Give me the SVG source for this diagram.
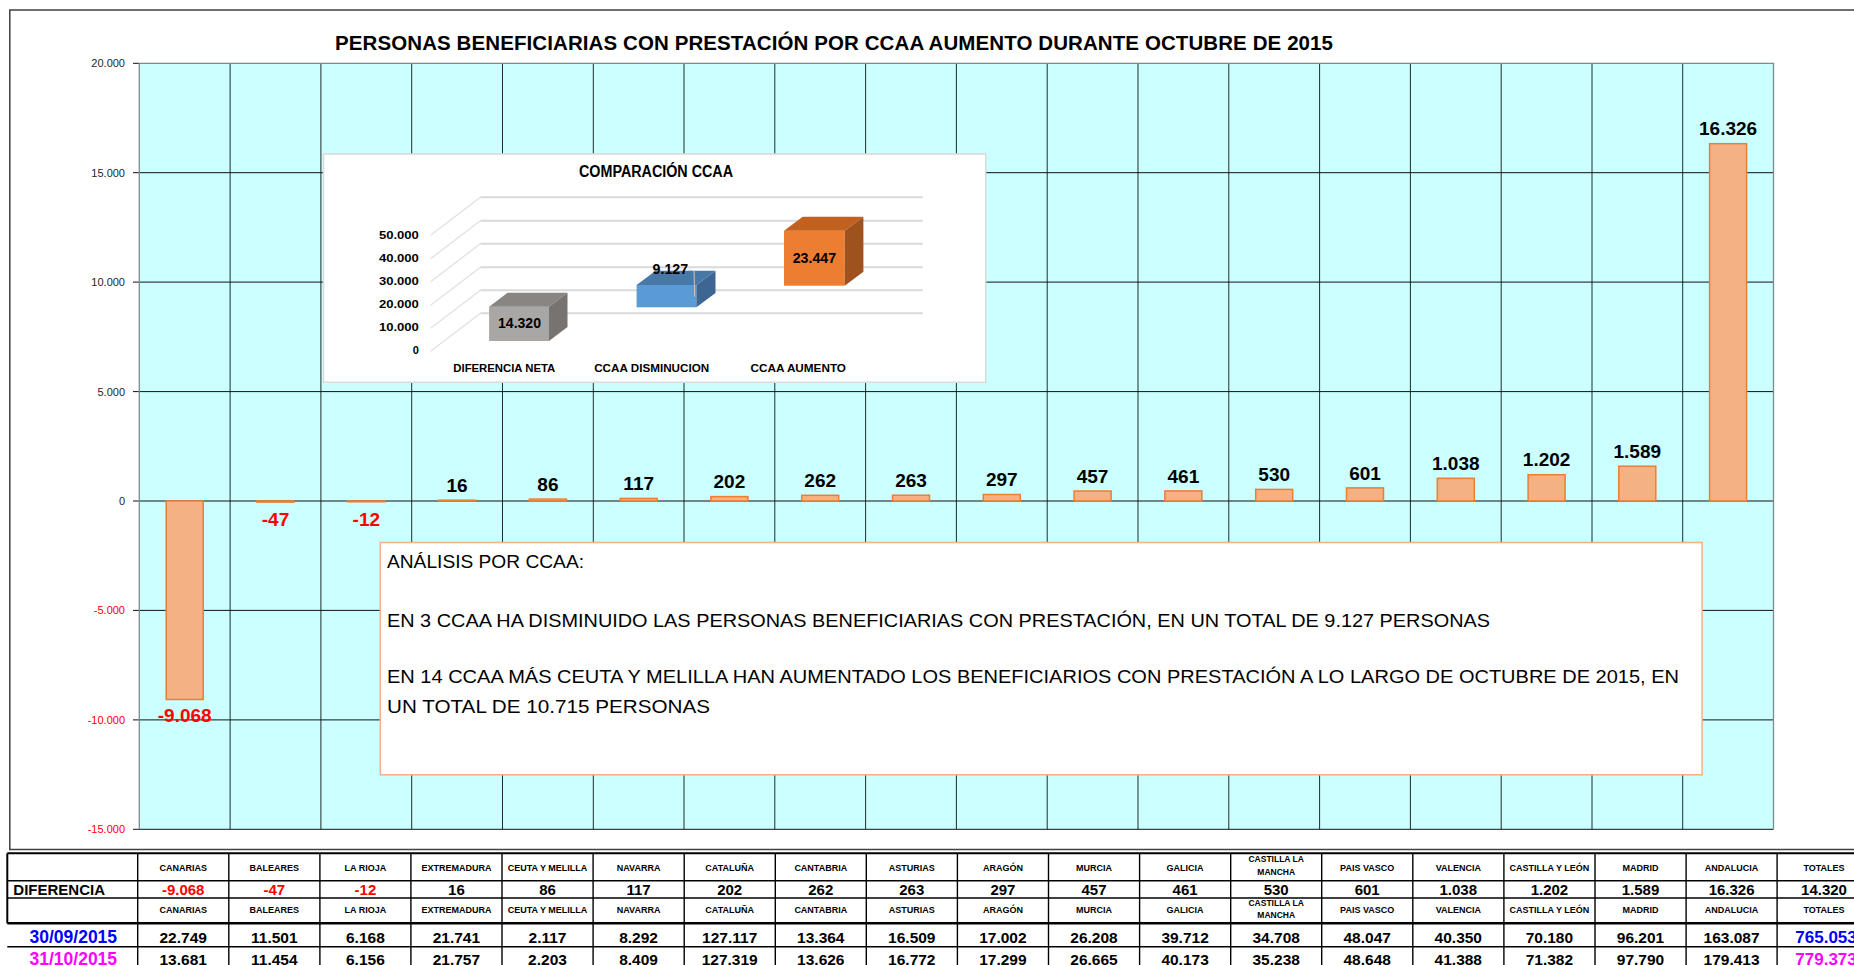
<svg xmlns="http://www.w3.org/2000/svg" width="1854" height="965" viewBox="0 0 1854 965">
<style>
text{font-family:"Liberation Sans",Arial,sans-serif}
.ax{font-size:11px;fill:#262626;text-anchor:end}
.axn{font-size:11px;fill:#FF0000;text-anchor:end}
.gh{stroke:#111;stroke-width:1}
.gv{stroke:#1e2d2d;stroke-width:1}
.bar{fill:#F4B183;stroke:#ED7D31;stroke-width:1.5}
.vl{font-size:19px;font-weight:bold;text-anchor:middle;fill:#000}
.vn{font-size:19px;font-weight:bold;text-anchor:middle;fill:#FF0000}
.th{font-size:9px;font-weight:bold;text-anchor:middle;fill:#000}
.th2{font-size:8.5px;font-weight:bold;text-anchor:middle;fill:#000}
.td{font-size:15px;font-weight:bold;text-anchor:middle;fill:#000}
.tdn{font-size:15px;font-weight:bold;text-anchor:middle;fill:#FF0000}
.tv{font-size:15.5px;font-weight:bold;text-anchor:middle;fill:#000}
.tl{stroke:#000;stroke-width:1.4}
.ib{font-weight:bold;fill:#000}
.box{font-size:19px;fill:#000}
</style>

<!-- outer frame -->
<g id="frame" fill="none" stroke="#404040" stroke-width="1.5">
<polyline points="1856,10 9.8,10 9.8,849.5 1856,849.5"/>
</g>

<text id="title" x="335" y="50" font-size="20.5" font-weight="bold" textLength="998" lengthAdjust="spacing">PERSONAS BENEFICIARIAS CON PRESTACIÓN POR CCAA AUMENTO DURANTE OCTUBRE DE 2015</text>

<!-- plot area -->
<g id="plot">
<rect x="139.3" y="63.3" width="1634.2" height="766" fill="#CCFFFF"/>
<g class="gv">
<line x1="230.1" y1="63.3" x2="230.1" y2="829.3"/>
<line x1="320.9" y1="63.3" x2="320.9" y2="829.3"/>
<line x1="411.7" y1="63.3" x2="411.7" y2="829.3"/>
<line x1="502.5" y1="63.3" x2="502.5" y2="829.3"/>
<line x1="593.3" y1="63.3" x2="593.3" y2="829.3"/>
<line x1="684.0" y1="63.3" x2="684.0" y2="829.3"/>
<line x1="774.8" y1="63.3" x2="774.8" y2="829.3"/>
<line x1="865.6" y1="63.3" x2="865.6" y2="829.3"/>
<line x1="956.4" y1="63.3" x2="956.4" y2="829.3"/>
<line x1="1047.2" y1="63.3" x2="1047.2" y2="829.3"/>
<line x1="1138.0" y1="63.3" x2="1138.0" y2="829.3"/>
<line x1="1228.8" y1="63.3" x2="1228.8" y2="829.3"/>
<line x1="1319.6" y1="63.3" x2="1319.6" y2="829.3"/>
<line x1="1410.4" y1="63.3" x2="1410.4" y2="829.3"/>
<line x1="1501.2" y1="63.3" x2="1501.2" y2="829.3"/>
<line x1="1592.0" y1="63.3" x2="1592.0" y2="829.3"/>
<line x1="1682.7" y1="63.3" x2="1682.7" y2="829.3"/>
</g>
<g class="gh">
<line x1="133" y1="172.7" x2="1773.5" y2="172.7"/>
<line x1="133" y1="282.1" x2="1773.5" y2="282.1"/>
<line x1="133" y1="391.6" x2="1773.5" y2="391.6"/>
<line x1="133" y1="501" x2="1773.5" y2="501"/>
<line x1="133" y1="610.4" x2="1773.5" y2="610.4"/>
<line x1="133" y1="719.9" x2="1773.5" y2="719.9"/>
<line x1="133" y1="829.3" x2="1773.5" y2="829.3"/>
<line x1="133" y1="63.3" x2="139.3" y2="63.3"/>
</g>
<polyline points="139.3,829.3 139.3,63.3 1773.5,63.3 1773.5,829.3" fill="none" stroke="#7f8a8a" stroke-width="1.3"/>
<g id="yaxis">
<text class="ax" x="125" y="67.3">20.000</text>
<text class="ax" x="125" y="176.7">15.000</text>
<text class="ax" x="125" y="286.1">10.000</text>
<text class="ax" x="125" y="395.6">5.000</text>
<text class="ax" x="125" y="505" fill="#000">0</text>
<text class="axn" x="125" y="614.4">-5.000</text>
<text class="axn" x="125" y="723.9">-10.000</text>
<text class="axn" x="125" y="833.3">-15.000</text>
</g>
</g>

<!-- bars -->
<g id="bars">
<g id="b-canarias"><rect class="bar" x="166.2" y="501" width="37" height="198.5"/><text class="vn" x="184.7" y="721.5">-9.068</text></g>
<g id="b-baleares"><rect class="bar" x="257" y="501" width="37" height="1.1"/><text class="vn" x="275.5" y="526">-47</text></g>
<g id="b-rioja"><rect class="bar" x="347.8" y="501" width="37" height="0.8"/><text class="vn" x="366.3" y="525.5">-12</text></g>
<g id="b-extremadura"><rect class="bar" x="438.6" y="500.2" width="37" height="0.8"/><text class="vl" x="457.1" y="492.3">16</text></g>
<g id="b-ceuta"><rect class="bar" x="529.4" y="499.1" width="37" height="1.9"/><text class="vl" x="547.9" y="490.8">86</text></g>
<g id="b-navarra"><rect class="bar" x="620.2" y="498.4" width="37" height="2.6"/><text class="vl" x="638.7" y="490.1">117</text></g>
<g id="b-cataluna"><rect class="bar" x="710.9" y="496.6" width="37" height="4.4"/><text class="vl" x="729.4" y="488.3">202</text></g>
<g id="b-cantabria"><rect class="bar" x="801.7" y="495.3" width="37" height="5.7"/><text class="vl" x="820.2" y="487">262</text></g>
<g id="b-asturias"><rect class="bar" x="892.5" y="495.2" width="37" height="5.8"/><text class="vl" x="911" y="486.9">263</text></g>
<g id="b-aragon"><rect class="bar" x="983.3" y="494.5" width="37" height="6.5"/><text class="vl" x="1001.8" y="486.2">297</text></g>
<g id="b-murcia"><rect class="bar" x="1074.1" y="491" width="37" height="10"/><text class="vl" x="1092.6" y="482.7">457</text></g>
<g id="b-galicia"><rect class="bar" x="1164.9" y="490.9" width="37" height="10.1"/><text class="vl" x="1183.4" y="482.6">461</text></g>
<g id="b-clm"><rect class="bar" x="1255.7" y="489.4" width="37" height="11.6"/><text class="vl" x="1274.2" y="481.1">530</text></g>
<g id="b-paisvasco"><rect class="bar" x="1346.5" y="487.9" width="37" height="13.1"/><text class="vl" x="1365" y="479.6">601</text></g>
<g id="b-valencia"><rect class="bar" x="1437.3" y="478.3" width="37" height="22.7"/><text class="vl" x="1455.8" y="470">1.038</text></g>
<g id="b-cyl"><rect class="bar" x="1528.1" y="474.7" width="37" height="26.3"/><text class="vl" x="1546.6" y="466.4">1.202</text></g>
<g id="b-madrid"><rect class="bar" x="1618.8" y="466.2" width="37" height="34.8"/><text class="vl" x="1637.3" y="457.9">1.589</text></g>
<g id="b-andalucia"><rect class="bar" x="1709.6" y="143.7" width="37" height="357.3"/><text class="vl" x="1728.1" y="135.4">16.326</text></g>
</g>

<!-- inset chart -->
<g id="inset">
<rect x="323.5" y="154" width="662.2" height="228.3" fill="#FFFFFF" stroke="#d9d9d9" stroke-width="1.5"/>
<text class="ib" x="656" y="176.7" font-size="16" text-anchor="middle" textLength="154" lengthAdjust="spacingAndGlyphs">COMPARACIÓN CCAA</text>
<g stroke="#e2e2e2" stroke-width="1.3" fill="none">
<line x1="480.4" y1="197.3" x2="430.6" y2="235.3"/>
<line x1="480.4" y1="220.7" x2="430.6" y2="258.7"/>
<line x1="480.4" y1="243.7" x2="430.6" y2="281.7"/>
<line x1="480.4" y1="267.3" x2="430.6" y2="305.3"/>
<line x1="480.4" y1="290.3" x2="430.6" y2="328.3"/>
<line x1="480.4" y1="313.3" x2="430.6" y2="351.3"/>
</g>
<g stroke="#d9d9d9" stroke-width="2">
<line x1="480.4" y1="197.3" x2="922.8" y2="197.3"/>
<line x1="480.4" y1="220.7" x2="922.8" y2="220.7"/>
<line x1="480.4" y1="243.7" x2="922.8" y2="243.7"/>
<line x1="480.4" y1="267.3" x2="922.8" y2="267.3"/>
<line x1="480.4" y1="290.3" x2="922.8" y2="290.3"/>
<line x1="480.4" y1="313.3" x2="922.8" y2="313.3"/>
</g>
<g class="ib" font-size="11" text-anchor="end">
<text x="418.9" y="239.3" textLength="40" lengthAdjust="spacingAndGlyphs">50.000</text>
<text x="418.9" y="262.3" textLength="40" lengthAdjust="spacingAndGlyphs">40.000</text>
<text x="418.9" y="285.3" textLength="40" lengthAdjust="spacingAndGlyphs">30.000</text>
<text x="418.9" y="308.3" textLength="40" lengthAdjust="spacingAndGlyphs">20.000</text>
<text x="418.9" y="331" textLength="40" lengthAdjust="spacingAndGlyphs">10.000</text>
<text x="418.9" y="353.7">0</text>
</g>
<g id="ib-neta">
<rect x="489.1" y="306.7" width="59.9" height="34.3" fill="#A9A7A5"/>
<polygon points="489.1,306.7 549,306.7 567.5,292.7 507.6,292.7" fill="#888583"/>
<polygon points="549,306.7 567.5,292.7 567.5,327 549,341" fill="#767371"/>
<text class="ib" x="519.5" y="328.3" font-size="14" text-anchor="middle" textLength="43" lengthAdjust="spacingAndGlyphs">14.320</text>
</g>
<g id="ib-dism">
<rect x="636.6" y="285" width="59.8" height="22.3" fill="#5B9BD5"/>
<polygon points="636.6,285 696.4,285 715.5,270.7 655.7,270.7" fill="#4878A8"/>
<polygon points="696.4,285 715.5,270.7 715.5,293 696.4,307.3" fill="#3D6792"/>
<polyline points="688.6,270 694,270.7 694.7,296.7" fill="none" stroke="#c8c8c8" stroke-width="1"/>
<text class="ib" x="670.4" y="274.3" font-size="14" text-anchor="middle" textLength="35.6" lengthAdjust="spacingAndGlyphs">9.127</text>
</g>
<g id="ib-aum">
<rect x="784" y="230.7" width="60.7" height="55" fill="#ED7D31"/>
<polygon points="784,230.7 844.7,230.7 863.4,216.7 802.7,216.7" fill="#C2611F"/>
<polygon points="844.7,230.7 863.4,216.7 863.4,271.7 844.7,285.7" fill="#9F521E"/>
<text class="ib" x="814.4" y="263.3" font-size="14" text-anchor="middle" textLength="43.4" lengthAdjust="spacingAndGlyphs">23.447</text>
</g>
<g class="ib" font-size="10.5" text-anchor="middle">
<text x="504.3" y="372.3" textLength="102" lengthAdjust="spacingAndGlyphs">DIFERENCIA NETA</text>
<text x="651.7" y="372.3" textLength="115" lengthAdjust="spacingAndGlyphs">CCAA DISMINUCION</text>
<text x="798.3" y="372.3" textLength="95.4" lengthAdjust="spacingAndGlyphs">CCAA AUMENTO</text>
</g>
</g>

<!-- analysis text box -->
<g id="analysis">
<rect x="380.3" y="542.5" width="1321.8" height="232.3" fill="#FFFFFF" stroke="#F4B183" stroke-width="1.5"/>
<text class="box" x="387" y="568.3" textLength="197" lengthAdjust="spacingAndGlyphs">ANÁLISIS POR CCAA:</text>
<text class="box" x="387" y="626.7" textLength="1103" lengthAdjust="spacingAndGlyphs">EN 3 CCAA HA DISMINUIDO LAS PERSONAS BENEFICIARIAS CON PRESTACIÓN, EN UN TOTAL DE 9.127 PERSONAS</text>
<text class="box" x="387" y="683.3" textLength="1292" lengthAdjust="spacingAndGlyphs">EN 14 CCAA MÁS CEUTA Y MELILLA HAN AUMENTADO LOS BENEFICIARIOS CON PRESTACIÓN A LO LARGO DE OCTUBRE DE 2015, EN</text>
<text class="box" x="387" y="713.3" textLength="323" lengthAdjust="spacingAndGlyphs">UN TOTAL DE  10.715 PERSONAS</text>
</g>

<!-- table -->
<g id="table">
<g class="tl">
<line x1="7.3" y1="853.3" x2="1860" y2="853.3" stroke-width="2"/>
<line x1="7.3" y1="880.7" x2="1860" y2="880.7"/>
<line x1="7.3" y1="898" x2="1860" y2="898"/>
<line x1="7.3" y1="923.3" x2="1860" y2="923.3" stroke-width="2.6"/>
<line x1="7.3" y1="946.7" x2="1860" y2="946.7"/>
<line x1="7.3" y1="853.3" x2="7.3" y2="923.3" stroke-width="2"/>
<line x1="137.7" y1="853.3" x2="137.7" y2="965"/>
<line x1="228.8" y1="853.3" x2="228.8" y2="965"/>
<line x1="319.9" y1="853.3" x2="319.9" y2="965"/>
<line x1="410.9" y1="853.3" x2="410.9" y2="965"/>
<line x1="502.0" y1="853.3" x2="502.0" y2="965"/>
<line x1="593.1" y1="853.3" x2="593.1" y2="965"/>
<line x1="684.2" y1="853.3" x2="684.2" y2="965"/>
<line x1="775.3" y1="853.3" x2="775.3" y2="965"/>
<line x1="866.3" y1="853.3" x2="866.3" y2="965"/>
<line x1="957.4" y1="853.3" x2="957.4" y2="965"/>
<line x1="1048.5" y1="853.3" x2="1048.5" y2="965"/>
<line x1="1139.6" y1="853.3" x2="1139.6" y2="965"/>
<line x1="1230.7" y1="853.3" x2="1230.7" y2="965"/>
<line x1="1321.7" y1="853.3" x2="1321.7" y2="965"/>
<line x1="1412.8" y1="853.3" x2="1412.8" y2="965"/>
<line x1="1503.9" y1="853.3" x2="1503.9" y2="965"/>
<line x1="1595.0" y1="853.3" x2="1595.0" y2="965"/>
<line x1="1686.1" y1="853.3" x2="1686.1" y2="965"/>
<line x1="1777.1" y1="853.3" x2="1777.1" y2="965"/>
</g>
<g id="hdr1">
<text class="th" x="183.2" y="871">CANARIAS</text>
<text class="th" x="274.3" y="871">BALEARES</text>
<text class="th" x="365.4" y="871">LA RIOJA</text>
<text class="th" x="456.4" y="871">EXTREMADURA</text>
<text class="th" x="547.5" y="871">CEUTA Y MELILLA</text>
<text class="th" x="638.6" y="871">NAVARRA</text>
<text class="th" x="729.7" y="871">CATALUÑA</text>
<text class="th" x="820.8" y="871">CANTABRIA</text>
<text class="th" x="911.8" y="871">ASTURIAS</text>
<text class="th" x="1002.9" y="871">ARAGÓN</text>
<text class="th" x="1094.0" y="871">MURCIA</text>
<text class="th" x="1185.1" y="871">GALICIA</text>
<text class="th2" x="1276.2" y="862">CASTILLA LA</text>
<text class="th2" x="1276.2" y="874.5">MANCHA</text>
<text class="th" x="1367.2" y="871">PAIS VASCO</text>
<text class="th" x="1458.3" y="871">VALENCIA</text>
<text class="th" x="1549.4" y="871">CASTILLA Y LEÓN</text>
<text class="th" x="1640.5" y="871">MADRID</text>
<text class="th" x="1731.6" y="871">ANDALUCIA</text>
<text class="th" x="1824" y="871">TOTALES</text>
</g>
<g id="row-diferencia">
<text x="13.3" y="895" font-size="15" font-weight="bold">DIFERENCIA</text>
<text class="tdn" x="183.2" y="895">-9.068</text>
<text class="tdn" x="274.3" y="895">-47</text>
<text class="tdn" x="365.4" y="895">-12</text>
<text class="td" x="456.4" y="895">16</text>
<text class="td" x="547.5" y="895">86</text>
<text class="td" x="638.6" y="895">117</text>
<text class="td" x="729.7" y="895">202</text>
<text class="td" x="820.8" y="895">262</text>
<text class="td" x="911.8" y="895">263</text>
<text class="td" x="1002.9" y="895">297</text>
<text class="td" x="1094.0" y="895">457</text>
<text class="td" x="1185.1" y="895">461</text>
<text class="td" x="1276.2" y="895">530</text>
<text class="td" x="1367.2" y="895">601</text>
<text class="td" x="1458.3" y="895">1.038</text>
<text class="td" x="1549.4" y="895">1.202</text>
<text class="td" x="1640.5" y="895">1.589</text>
<text class="td" x="1731.6" y="895">16.326</text>
<text class="td" x="1824" y="895">14.320</text>
</g>
<g id="hdr2">
<text class="th" x="183.2" y="913.3">CANARIAS</text>
<text class="th" x="274.3" y="913.3">BALEARES</text>
<text class="th" x="365.4" y="913.3">LA RIOJA</text>
<text class="th" x="456.4" y="913.3">EXTREMADURA</text>
<text class="th" x="547.5" y="913.3">CEUTA Y MELILLA</text>
<text class="th" x="638.6" y="913.3">NAVARRA</text>
<text class="th" x="729.7" y="913.3">CATALUÑA</text>
<text class="th" x="820.8" y="913.3">CANTABRIA</text>
<text class="th" x="911.8" y="913.3">ASTURIAS</text>
<text class="th" x="1002.9" y="913.3">ARAGÓN</text>
<text class="th" x="1094.0" y="913.3">MURCIA</text>
<text class="th" x="1185.1" y="913.3">GALICIA</text>
<text class="th2" x="1276.2" y="905.5">CASTILLA LA</text>
<text class="th2" x="1276.2" y="918">MANCHA</text>
<text class="th" x="1367.2" y="913.3">PAIS VASCO</text>
<text class="th" x="1458.3" y="913.3">VALENCIA</text>
<text class="th" x="1549.4" y="913.3">CASTILLA Y LEÓN</text>
<text class="th" x="1640.5" y="913.3">MADRID</text>
<text class="th" x="1731.6" y="913.3">ANDALUCIA</text>
<text class="th" x="1824" y="913.3">TOTALES</text>
</g>
<g id="row-0915">
<text x="73.3" y="943.3" font-size="17.5" font-weight="bold" fill="#0000FF" text-anchor="middle">30/09/2015</text>
<text class="tv" x="183.2" y="943.3">22.749</text>
<text class="tv" x="274.3" y="943.3">11.501</text>
<text class="tv" x="365.4" y="943.3">6.168</text>
<text class="tv" x="456.4" y="943.3">21.741</text>
<text class="tv" x="547.5" y="943.3">2.117</text>
<text class="tv" x="638.6" y="943.3">8.292</text>
<text class="tv" x="729.7" y="943.3">127.117</text>
<text class="tv" x="820.8" y="943.3">13.364</text>
<text class="tv" x="911.8" y="943.3">16.509</text>
<text class="tv" x="1002.9" y="943.3">17.002</text>
<text class="tv" x="1094.0" y="943.3">26.208</text>
<text class="tv" x="1185.1" y="943.3">39.712</text>
<text class="tv" x="1276.2" y="943.3">34.708</text>
<text class="tv" x="1367.2" y="943.3">48.047</text>
<text class="tv" x="1458.3" y="943.3">40.350</text>
<text class="tv" x="1549.4" y="943.3">70.180</text>
<text class="tv" x="1640.5" y="943.3">96.201</text>
<text class="tv" x="1731.6" y="943.3">163.087</text>
<text x="1795.3" y="943.3" font-size="17" font-weight="bold" fill="#0000FF">765.053</text>
</g>
<g id="row-1015">
<text x="73.3" y="965" font-size="17.5" font-weight="bold" fill="#FF00FF" text-anchor="middle">31/10/2015</text>
<text class="tv" x="183.2" y="965">13.681</text>
<text class="tv" x="274.3" y="965">11.454</text>
<text class="tv" x="365.4" y="965">6.156</text>
<text class="tv" x="456.4" y="965">21.757</text>
<text class="tv" x="547.5" y="965">2.203</text>
<text class="tv" x="638.6" y="965">8.409</text>
<text class="tv" x="729.7" y="965">127.319</text>
<text class="tv" x="820.8" y="965">13.626</text>
<text class="tv" x="911.8" y="965">16.772</text>
<text class="tv" x="1002.9" y="965">17.299</text>
<text class="tv" x="1094.0" y="965">26.665</text>
<text class="tv" x="1185.1" y="965">40.173</text>
<text class="tv" x="1276.2" y="965">35.238</text>
<text class="tv" x="1367.2" y="965">48.648</text>
<text class="tv" x="1458.3" y="965">41.388</text>
<text class="tv" x="1549.4" y="965">71.382</text>
<text class="tv" x="1640.5" y="965">97.790</text>
<text class="tv" x="1731.6" y="965">179.413</text>
<text x="1795.3" y="965" font-size="17" font-weight="bold" fill="#FF00FF">779.373</text>
</g>
</g>
</svg>
